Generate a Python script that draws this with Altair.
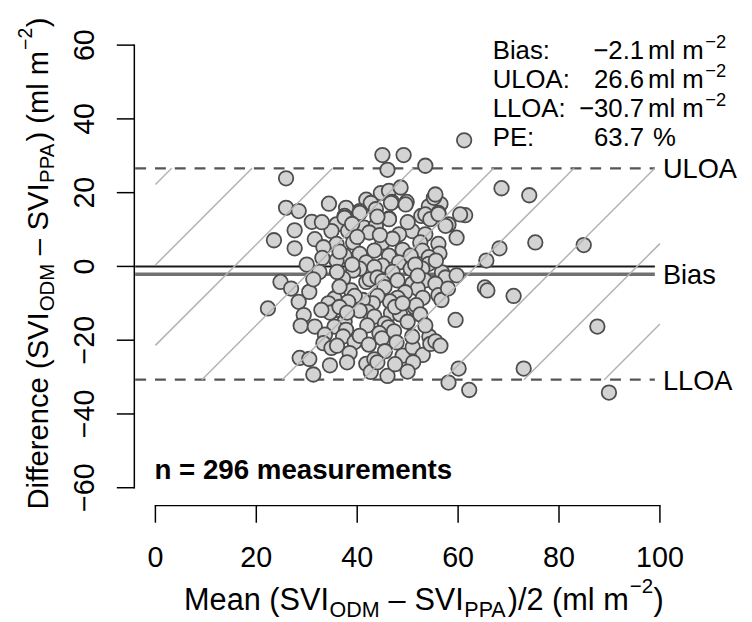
import altair as alt
import pandas as pd

# ---------------- data ----------------
mean_vals = [61.2, 45.0, 49.2, 46.0, 53.5, 25.9, 68.6, 74.1, 61.4, 60.4, 56.5, 44.7, 46.3, 48.6, 46.9, 49.8,
             41.8, 42.7, 43.7, 40.5, 37.8, 37.5, 35.9, 46.3, 41.4, 54.2, 55.2, 54.2, 56.1, 52.7, 55.5, 58.1,
             34.4, 25.9, 28.4, 31.0, 27.6, 49.6, 46.7, 50.9, 53.5, 53.5, 54.5, 48.3, 45.0, 46.3, 43.7, 42.4,
             40.5, 37.5, 34.9, 35.9, 38.2, 39.2, 40.5, 37.5, 35.9, 41.8, 43.4, 47.0, 52.5, 49.0, 44.5, 39.0,
             33.0, 27.6, 23.5, 31.6, 33.3, 33.1, 56.1, 59.7, 57.5, 56.1, 56.3, 68.2, 75.3, 84.9, 65.6, 46.3,
             48.3, 52.9, 50.6, 54.2, 54.2, 45.0, 43.4, 40.5, 39.2, 50.6, 52.9, 51.5, 56.8, 57.5, 59.7, 55.6,
             30.0, 32.5, 37.2, 38.8, 35.5, 34.3, 36.5, 41.8, 42.5, 44.0, 45.0, 45.4, 47.0, 48.0, 50.9, 53.4,
             55.5, 52.0, 49.5, 48.0, 46.5, 44.0, 43.1, 41.1, 39.5, 38.2, 53.0, 56.1, 56.7, 58.0, 65.3, 65.8,
             71.0, 51.4, 51.7, 46.7, 48.5, 42.1, 43.4, 40.5, 35.9, 34.6, 36.5, 37.5, 35.5, 37.8, 42.0, 45.5,
             46.2, 50.0, 59.5, 24.8, 26.9, 28.4, 30.5, 31.3, 22.3, 29.4, 28.8, 31.6, 32.9, 33.6, 33.3, 34.9,
             37.2, 39.5, 36.0, 38.5, 40.5, 42.3, 44.4, 44.9, 47.3, 47.8, 45.5, 49.0, 51.0, 50.9, 53.0, 51.1,
             54.3, 54.5, 55.5, 56.5, 28.6, 30.5, 31.3, 34.6, 38.0, 41.8, 43.4, 42.7, 46.0, 47.5, 50.0, 60.1,
             73.0, 58.1, 62.2, 89.9, 87.6, 36.5, 39.0, 47.5, 49.0, 38.0, 44.0, 52.5, 53.5, 40.0, 50.0, 44.0,
             52.0, 36.0]
diff_vals = [34.2, 30.2, 30.2, 26.2, 27.3, 23.9, 21.2, 19.3, 13.9, 14.1, 16.9, 19.9, 20.5, 21.4, 17.5, 17.5,
             18.1, 17.2, 15.5, 15.0, 15.9, 13.7, 11.4, 13.0, 10.5, 16.3, 18.6, 13.2, 14.5, 13.7, 19.5, 11.4,
             17.0, 15.9, 15.0, 12.1, 9.8, 16.8, 17.2, 9.6, 8.7, 14.1, 12.8, 8.7, 6.5, 12.8, 11.0, 9.2,
             14.5, 13.2, 9.6, 6.1, 9.6, 6.5, 3.4, 2.9, 1.6, 1.1, 4.3, 7.5, 6.5, 4.5, 8.5, 11.5,
             12.0, 4.9, 7.1, 7.4, 5.2, 2.3, 6.1, 7.8, 11.0, 14.2, 3.5, 4.9, 6.5, 5.8, 1.6, 2.9,
             1.1, 4.3, 2.9, 2.5, 0.7, 0.2, -0.2, -0.6, -1.1, -0.6, -0.6, 0.5, -1.6, -3.0, -2.4, 1.6,
             0.5, -1.5, -3.3, -6.5, -8.7, -10.0, -5.5, -4.2, -3.5, -3.0, -4.0, -5.6, -1.5, -3.8, -4.7, -3.8,
             -4.7, -6.0, -7.0, -8.5, -9.5, -8.0, -10.0, -9.1, -8.0, -9.6, -8.5, -7.8, -9.1, -6.0, -5.7, -6.5,
             -8.0, -11.1, -10.5, -12.7, -13.0, -12.3, -13.6, -12.0, -11.8, -12.5, -11.0, -15.0, -16.3, -17.2, -16.0, -15.5,
             -16.5, -15.0, -14.5, -4.2, -6.0, -9.6, -6.9, -3.5, -11.4, -13.2, -16.1, -16.3, -11.8, -18.5, -20.8, -22.1,
             -19.0, -20.5, -21.5, -23.5, -18.8, -21.2, -18.1, -19.5, -17.6, -20.6, -23.0, -24.2, -21.9, -19.0, -24.0, -26.0,
             -19.0, -21.0, -20.3, -21.5, -24.8, -25.1, -29.3, -26.8, -26.0, -26.4, -25.2, -28.6, -29.7, -26.5, -28.5, -27.7,
             -27.7, -31.5, -33.5, -34.2, -16.3, 4.0, 0.5, -11.0, -10.0, -12.5, -26.0, -13.0, -16.0, 8.0, 12.0, 13.5,
             -2.5, -1.5]

bias, uloa, lloa = -2.1, 26.6, -30.7
line_names = ["ULOA", "Bias", "LLOA"]
x_ticks = [0, 20, 40, 60, 80, 100]
y_ticks = [-60, -40, -20, 0, 20, 40, 60]
hatch_intercepts = [22.2, 0.4, -21.4, -43.3, -65.1, -86.9, -108.8, -130.6, -152.4]

stat_labels = ["Bias:", "ULOA:", "LLOA:", "PE:"]
stat_values = ["\u22122.1", "26.6", "\u221230.7", "63.7"]
stat_units = ["ml m", "ml m", "ml m", "%"]
stat_sups = ["\u22122", "\u22122", "\u22122", ""]

# ---------------- layout ----------------
FONT = "Liberation Sans"
W, H = 550.8, 483.2
XD, YD = [-4, 104], [-64.8, 64.8]
PADL, PADT = 128.6, 16.3
OX, OY = 8 + PADL, 8 + PADT  # page position of plot origin


def px(page_x):
    return page_x - OX


def py(page_y):
    return page_y - OY


xs = alt.Scale(domain=XD, nice=False, zero=False)
ys = alt.Scale(domain=YD, nice=False, zero=False)

ARIAL = {" ": 278, "(": 333, ")": 333, "/": 278, "\u2013": 556, "\u2212": 584, ".": 278, ":": 278, "%": 889,
         "A": 667, "D": 722, "I": 278, "M": 833, "O": 778, "P": 667, "S": 667, "V": 667,
         "a": 556, "c": 500, "e": 556, "f": 278, "i": 222, "l": 222, "m": 833, "n": 556, "r": 333}
for d in "0123456789":
    ARIAL[d] = 556


def tw(s, size):
    return sum(ARIAL.get(c, 600) for c in s) * size / 1000.0


ONE = pd.DataFrame({"k": [0]})


def label(s, x, y, size, align="left", angle=0, dx=0, dy=0, weight="normal", color="black"):
    kw = dict(text=s, fontSize=size, font=FONT, align=align, baseline="alphabetic",
              color=color, fontWeight=weight)
    if angle:
        kw["angle"] = angle
    if dx:
        kw["dx"] = dx
    if dy:
        kw["dy"] = dy
    return alt.Chart(ONE).mark_text(**kw).encode(x=alt.value(x), y=alt.value(y))


def rich(parts, f):
    """parts: (text, kind, gap_before) -> list of (text, offset, size, shift), total length"""
    sizes = {"main": f, "sub": f * 0.70, "sup": f * 0.667}
    shifts = {"main": 0, "sub": f * 0.23, "sup": -f * 0.55}
    out, off = [], 0.0
    for t, kind, gap in parts:
        off += gap * f / 31.0
        out.append((t, off, sizes[kind], shifts[kind]))
        off += tw(t, sizes[kind])
    return out, off


layers = []

# horizontal reference lines
hl = pd.DataFrame({"x0": [XD[0]], "x1": [99.0]})
layers.append(alt.Chart(hl.assign(y=0.0)).mark_rule(color="#1a1a1a", strokeWidth=2).encode(
    x=alt.X("x0:Q", scale=xs, axis=None), x2="x1:Q", y=alt.Y("y:Q", scale=ys, axis=None)))
layers.append(alt.Chart(hl.assign(y=bias)).mark_rule(color="#707070", strokeWidth=3.6).encode(
    x=alt.X("x0:Q", scale=xs, axis=None), x2="x1:Q", y=alt.Y("y:Q", scale=ys, axis=None)))
dl = pd.DataFrame({"x0": [XD[0], XD[0]], "x1": [99.0, 99.0], "y": [uloa, lloa]})
layers.append(alt.Chart(dl).mark_rule(color="#555555", strokeWidth=2.2, strokeDash=[11, 9]).encode(
    x=alt.X("x0:Q", scale=xs, axis=None), x2="x1:Q", y=alt.Y("y:Q", scale=ys, axis=None)))

# points
pts = pd.DataFrame({"m": mean_vals, "d": diff_vals})
layers.append(alt.Chart(pts).mark_point(shape="circle", filled=True, size=215, fill="#d3d3d3",
                                        fillOpacity=1, stroke="#4d4d4d", strokeWidth=1.8, opacity=1).encode(
    x=alt.X("m:Q", scale=xs, axis=None), y=alt.Y("d:Q", scale=ys, axis=None)))

# hatching between the limits of agreement (45 degrees on screen)
slope = (W / (XD[1] - XD[0])) / (H / (YD[1] - YD[0]))
rows = []
for b in hatch_intercepts:
    x_lo = max(x_ticks[0], (lloa - b) / slope)
    x_hi = min(x_ticks[-1], (uloa - b) / slope)
    if x_hi > x_lo:
        rows.append({"x": x_lo, "y": b + slope * x_lo, "x2": x_hi, "y2": b + slope * x_hi})
layers.append(alt.Chart(pd.DataFrame(rows)).mark_rule(color="#b3b3b3", strokeWidth=1.5).encode(
    x=alt.X("x:Q", scale=xs, axis=None), y=alt.Y("y:Q", scale=ys, axis=None), x2="x2:Q", y2="y2:Q"))

# axes (detached, R style)
AXX = px(135.7)
AXY = py(507.7)
layers.append(alt.Chart(pd.DataFrame({"a": [min(y_ticks)], "b": [max(y_ticks)]})).mark_rule(
    color="black", strokeWidth=1.5, strokeCap="square").encode(
    x=alt.value(AXX), y=alt.Y("a:Q", scale=ys, axis=None), y2="b:Q"))
layers.append(alt.Chart(pd.DataFrame({"v": y_ticks})).mark_rule(color="black", strokeWidth=1.5).encode(
    x=alt.value(AXX), x2=alt.value(px(118)), y=alt.Y("v:Q", scale=ys, axis=None)))
layers.append(alt.Chart(pd.DataFrame({"a": [min(x_ticks)], "b": [max(x_ticks)]})).mark_rule(
    color="black", strokeWidth=1.5, strokeCap="square").encode(
    y=alt.value(AXY), x=alt.X("a:Q", scale=xs, axis=None), x2="b:Q"))
layers.append(alt.Chart(pd.DataFrame({"v": x_ticks})).mark_rule(color="black", strokeWidth=1.5).encode(
    y=alt.value(AXY), y2=alt.value(py(525)), x=alt.X("v:Q", scale=xs, axis=None)))

# tick labels
xl = pd.DataFrame({"v": x_ticks, "t": [str(v) for v in x_ticks]})
layers.append(alt.Chart(xl).mark_text(font=FONT, fontSize=29, align="center", baseline="alphabetic",
                                      color="black").encode(
    x=alt.X("v:Q", scale=xs, axis=None), y=alt.value(py(569.5)), text="t:N"))
yl = pd.DataFrame({"v": y_ticks, "t": [str(v).replace("-", "\u2212") for v in y_ticks]})
layers.append(alt.Chart(yl).mark_text(font=FONT, fontSize=29, align="center", baseline="alphabetic",
                                      angle=270, color="black").encode(
    y=alt.Y("v:Q", scale=ys, axis=None), x=alt.value(px(95)), text="t:N"))

# labels at the right end of the lines
rl = pd.DataFrame({"t": line_names, "y": [uloa, bias, lloa], "x": [100.6] * 3})
layers.append(alt.Chart(rl).mark_text(font=FONT, fontSize=27.5, align="left", baseline="alphabetic",
                                      dy=10, color="black").encode(
    x=alt.X("x:Q", scale=xs, axis=None), y=alt.Y("y:Q", scale=ys, axis=None), text="t:N"))

# statistics block (top right)
SF = 26
for i in range(len(stat_labels)):
    base_y = py(56.5 + 29.2 * i)
    layers.append(label(stat_labels[i], px(498), base_y, SF))
    layers.append(label(stat_values[i], px(651), base_y, SF, align="right"))
    if stat_units[i] == "%":
        layers.append(label(stat_units[i], px(660), base_y, SF))
    else:
        layers.append(label(stat_units[i], px(655), base_y, SF))
        layers.append(label(stat_sups[i], px(655) + tw(stat_units[i], SF) + 1.5, base_y, 18.5, dy=-11))

# n = 296 measurements
layers.append(label("n = 296 measurements", px(156), py(481), 28, weight="bold"))

# x-axis title with sub/superscripts
x_parts = [("Mean (SVI", "main", 0), ("ODM", "sub", 0.5), ("\u2013", "main", 9), ("SVI", "main", 9),
           ("PPA", "sub", 0.5), (")/2 (ml m", "main", 0.5), ("\u22122", "sup", 1), (")", "main", 0.5)]
segs, total = rich(x_parts, 31)
for s, off, size, shift in segs:
    layers.append(label(s, px(186) + off, py(613.3), size, dy=shift))

# y-axis title (rotated), offsets along the text
y_parts = [("Difference (SVI", "main", 0), ("ODM", "sub", 0.5), ("\u2013", "main", 9), ("SVI", "main", 9),
           ("PPA", "sub", 0.5), (") (ml m", "main", 0.5), ("\u22122", "sup", 1), (")", "main", 0.5)]
segs, total = rich(y_parts, 29.5)
start_y = 263 + total / 2
for s, off, size, shift in segs:
    layers.append(label(s, px(48), py(start_y), size, angle=270, dx=off, dy=shift))

chart = alt.layer(*layers).properties(
    width=W, height=H,
    autosize=alt.AutoSizeParams(type="none"),
    padding={"left": PADL, "top": PADT, "right": 744 - PADL - W, "bottom": 614 - PADT - H},
    background="white",
).configure_view(stroke=None)

chart.save("out.html", embed_options={"renderer": "svg", "actions": False})
